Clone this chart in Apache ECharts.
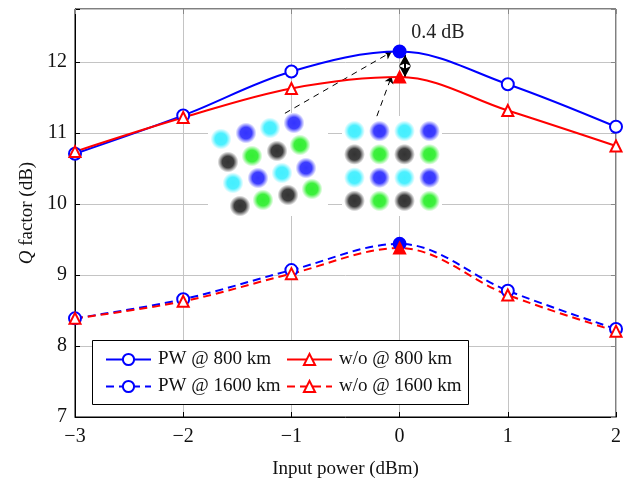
<!DOCTYPE html>
<html><head><meta charset="utf-8">
<script src="https://cdn.jsdelivr.net/npm/echarts@6/dist/echarts.min.js"></script>
<style>html,body{margin:0;padding:0;background:#fff}#c{width:641px;height:480px}</style>
</head><body><div id="c"></div>
<script>
const xVals = [-3, -2, -1, 0, 1, 2];
const pw800 = [10.71, 11.25, 11.87, 12.15, 11.69, 11.09];
const wo800 = [10.74, 11.22, 11.63, 11.79, 11.32, 10.82];
const pw1600 = [8.39, 8.66, 9.07, 9.44, 8.78, 8.24];
const wo1600 = [8.39, 8.63, 9.02, 9.38, 8.72, 8.21];
const highlightX = 0;
const seriesNames = ['PW @ 800 km', 'PW @ 1600 km', 'w/o @ 800 km', 'w/o @ 1600 km'];
const xTicks = [-3, -2, -1, 0, 1, 2];
const yTicks = [7, 8, 9, 10, 11, 12];
// constellation insets (cluster centres, colour key)
const constLeft = [
  [13,26,'c'],[38,20,'b'],[62,15,'c'],[86,10,'b'],
  [20,49,'k'],[44,43,'g'],[69,38,'k'],[92,32,'g'],
  [25,70,'c'],[50,65,'b'],[74,60,'c'],[98,55,'b'],
  [32,93,'k'],[55,87,'g'],[80,82,'k'],[104,76,'g']
];
const constRight = [
  [-3,3,'c'],[-1,3,'b'],[1,3,'c'],[3,3,'b'],
  [-3,1,'k'],[-1,1,'g'],[1,1,'k'],[3,1,'g'],
  [-3,-1,'c'],[-1,-1,'b'],[1,-1,'c'],[3,-1,'b'],
  [-3,-3,'k'],[-1,-3,'g'],[1,-3,'k'],[3,-3,'g']
];
const annotationText = '0.4 dB';

const BLUE = '#0000ff', RED = '#ff0000';
const FONT = '"Liberation Serif", "DejaVu Serif", serif';
const clusterColors = {c: [20,235,255], b: [0,0,255], k: [0,0,0], g: [0,235,0]};

function grad(key) {
  const [r,g,b] = clusterColors[key];
  return {type:'radial', x:0.5, y:0.5, r:0.5, colorStops:[
    {offset:0, color:`rgba(${r},${g},${b},1)`},
    {offset:0.55, color:`rgba(${r},${g},${b},0.95)`},
    {offset:0.8, color:`rgba(${r},${g},${b},0.4)`},
    {offset:1, color:`rgba(${r},${g},${b},0)`}
  ]};
}

function mkLine(name, vals, color, symbol, dashed) {
  return {
    name, type:'line', xAxisIndex:0, yAxisIndex:0, smooth:0.35,
    symbol, symbolSize: symbol === 'triangle' ? 11 : 12,
    lineStyle:{color, width:2, type: dashed ? [8,5] : 'solid'},
    itemStyle:{color:'#fff', borderColor:color, borderWidth:2},
    data: xVals.map((x,i) => x === highlightX
      ? {value:[x, vals[i]], itemStyle:{color:color, borderColor:color}}
      : [x, vals[i]]),
    z: 5
  };
}

const s1 = mkLine(seriesNames[0], pw800, BLUE, 'circle', false);
const s2 = mkLine(seriesNames[1], pw1600, BLUE, 'circle', true);
const s3 = mkLine(seriesNames[2], wo800, RED, 'triangle', false);
const s4 = mkLine(seriesNames[3], wo1600, RED, 'triangle', true);

s1.markLine = {
  silent:true, symbol:['none','arrow'], symbolSize:7, label:{show:false},
  lineStyle:{color:'#000', width:1, type:[6,5]},
  data:[
    [{coord:[-1.06, 11.28]},{coord:[-0.075, 12.145]}],
    [{coord:[-0.21, 11.24]},{coord:[-0.075, 11.8]}]
  ]
};
s3.markLine = {
  silent:true, symbol:['arrow','arrow'], symbolSize:[9,11], label:{show:false},
  lineStyle:{color:'#000', width:2, type:'solid'},
  data:[[{coord:[0.05, 12.1]},{coord:[0.05, 11.79]}]]
};
s1.markPoint = {
  silent:true, symbol:'circle', symbolSize:0,
  data:[{coord:[0.355, 12.42]}],
  label:{show:true, position:'inside', formatter:annotationText, color:'#222', fontFamily:FONT, fontSize:20}
};

const insetL = {type:'scatter', xAxisIndex:2, yAxisIndex:2, symbolSize:21, z:6, silent:true,
  data: constLeft.map(d => ({value:[d[0], d[1]], itemStyle:{color:grad(d[2])}}))};
const insetR = {type:'scatter', xAxisIndex:3, yAxisIndex:3, symbolSize:21, z:6, silent:true,
  data: constRight.map(d => ({value:[d[0], d[1]], itemStyle:{color:grad(d[2])}}))};

const tickLabel = v => (v < 0 ? '\u2212' + Math.abs(v) : String(v));

const option = {
  animation:false,
  backgroundColor:'#fff',
  textStyle:{fontFamily:FONT},
  grid:[
    {left:75, right:25, top:9, bottom:63, show:true, borderColor:'#000', borderWidth:1, z:0, outerBoundsMode:'none', containLabel:false},
    {left:75, right:25, top:9, bottom:63, show:false, outerBoundsMode:'none', containLabel:false},
    {left:208, top:113, width:120, height:103, show:true, backgroundColor:'#fff', borderWidth:0, z:3, outerBoundsMode:'none'},
    {left:342, top:116, width:100, height:100, show:true, backgroundColor:'#fff', borderWidth:0, z:3, outerBoundsMode:'none'}
  ],
  xAxis:[
    {type:'value', gridIndex:0, min:xTicks[0], max:xTicks[xTicks.length-1], interval:1,
     name:'Input power (dBm)', nameLocation:'middle', nameGap:43,
     nameTextStyle:{fontFamily:FONT, fontSize:19, color:'#111'},
     axisLine:{show:true, onZero:false, lineStyle:{color:'#000'}},
     axisTick:{show:true, inside:true, length:5, lineStyle:{color:'#000'}},
     axisLabel:{formatter:tickLabel, fontFamily:FONT, fontSize:20, color:'#111', margin:10},
     splitLine:{show:true, lineStyle:{color:'#c4c4c4', width:1}}},
    {type:'value', gridIndex:1, position:'top', min:xTicks[0], max:xTicks[xTicks.length-1], interval:1,
     axisLine:{show:false, onZero:false}, axisLabel:{show:false}, splitLine:{show:false},
     axisTick:{show:true, inside:true, length:5, lineStyle:{color:'#888'}}},
    {type:'value', gridIndex:2, min:0, max:120, show:false},
    {type:'value', gridIndex:3, min:-4, max:4, show:false}
  ],
  yAxis:[
    {type:'value', gridIndex:0, min:yTicks[0], max:12.75, interval:1,
     name:'{i|Q} factor (dB)', nameLocation:'middle', nameGap:37,
     nameTextStyle:{fontFamily:FONT, fontSize:19, color:'#111', rich:{i:{fontStyle:'italic', fontFamily:FONT, fontSize:19, color:'#111'}}},
     axisLine:{show:true, onZero:false, lineStyle:{color:'#000'}},
     axisTick:{show:true, inside:true, length:5, lineStyle:{color:'#000'}},
     axisLabel:{formatter:v => (yTicks.includes(v) ? String(v) : ''), fontFamily:FONT, fontSize:20, color:'#111', margin:8},
     splitLine:{show:true, lineStyle:{color:'#c4c4c4', width:1}}},
    {type:'value', gridIndex:1, position:'right', min:yTicks[0], max:12.75, interval:1,
     axisLine:{show:false, onZero:false}, axisLabel:{show:false}, splitLine:{show:false},
     axisTick:{show:true, inside:true, length:5, lineStyle:{color:'#888'}}},
    {type:'value', gridIndex:2, min:0, max:103, inverse:true, show:false},
    {type:'value', gridIndex:3, min:-4.3, max:4.3, show:false}
  ],
  legend:[
    {data:[seriesNames[0], seriesNames[1]], orient:'vertical', left:100, top:345,
     itemWidth:45, itemHeight:14, itemGap:8, z:10,
     textStyle:{fontFamily:FONT, fontSize:19, color:'#111', padding:[0,0,0,2]}},
    {data:[seriesNames[2], seriesNames[3]], orient:'vertical', left:281, top:345,
     itemWidth:45, itemHeight:14, itemGap:8, z:10,
     textStyle:{fontFamily:FONT, fontSize:19, color:'#111', padding:[0,0,0,2]}}
  ],
  graphic:[
    {type:'rect', z:8, shape:{x:92.5, y:340.5, width:376, height:64},
     style:{fill:'#fff', stroke:'#000', lineWidth:1}}
  ],
  series:[s1, s2, s3, s4, insetL, insetR]
};

const chart = echarts.init(document.getElementById('c'), null, {renderer:'canvas'});
chart.setOption(option);
</script>
</body></html>
